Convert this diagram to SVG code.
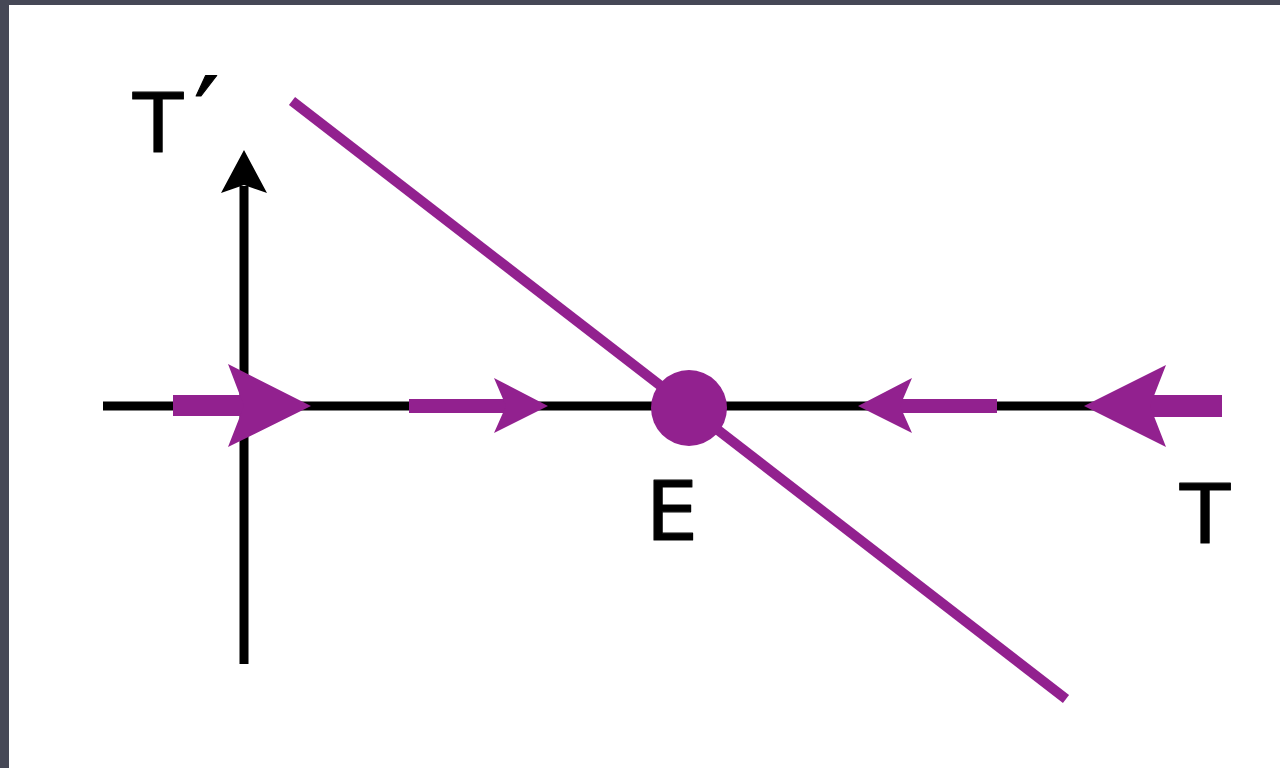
<svg xmlns="http://www.w3.org/2000/svg" width="1280" height="768" viewBox="0 0 1280 768">
<style>
.axis{stroke:#000;stroke-width:9;fill:none}
.traj{stroke:#92218f;stroke-width:10;fill:none}
.purple{fill:#92218f}
.lbl{font-family:"DejaVu Sans",sans-serif;font-size:82px;fill:#000;stroke:#000;stroke-width:1.2;stroke-linejoin:round;stroke-linecap:round}
</style>
<rect x="0" y="0" width="1280" height="768" fill="#464856"/>
<rect x="9" y="5" width="1271" height="763" fill="#ffffff"/>
<g id="axes">
<line class="axis" x1="103" y1="406" x2="1215" y2="406"/>
<line class="axis" x1="244" y1="664" x2="244" y2="186"/>
<polygon points="244,150 267,193 244,185 221,193" fill="#000"/>
</g>
<g id="line">
<line class="traj" x1="292" y1="101" x2="1066" y2="699"/>
</g>
<g id="connectors">
<g id="arrow1">
<rect class="purple" x="173" y="395" width="80" height="21"/>
<polygon class="purple" points="311,406 228,364 244,406 228,447"/>
</g>
<g id="arrow2">
<rect class="purple" x="409" y="399" width="100" height="14"/>
<polygon class="purple" points="548,406 494,378 506,406 494,433"/>
</g>
<g id="arrow3">
<rect class="purple" x="895" y="399" width="102" height="14"/>
<polygon class="purple" points="858,406 912,378 900,406 912,433"/>
</g>
<g id="arrow4">
<rect class="purple" x="1145" y="395" width="77" height="22"/>
<polygon class="purple" points="1084,406 1166,365 1150,406 1166,447"/>
</g>
</g>
<g id="E">
<circle class="purple" cx="689" cy="408" r="38"/>
<text class="lbl" x="646" y="540">E</text>
</g>
<g id="labels">
<text class="lbl" x="133" y="152">T</text>
<text class="lbl" x="194" y="158" style="font-size:112px">′</text>
<text class="lbl" x="1180" y="543">T</text>
</g>
</svg>
